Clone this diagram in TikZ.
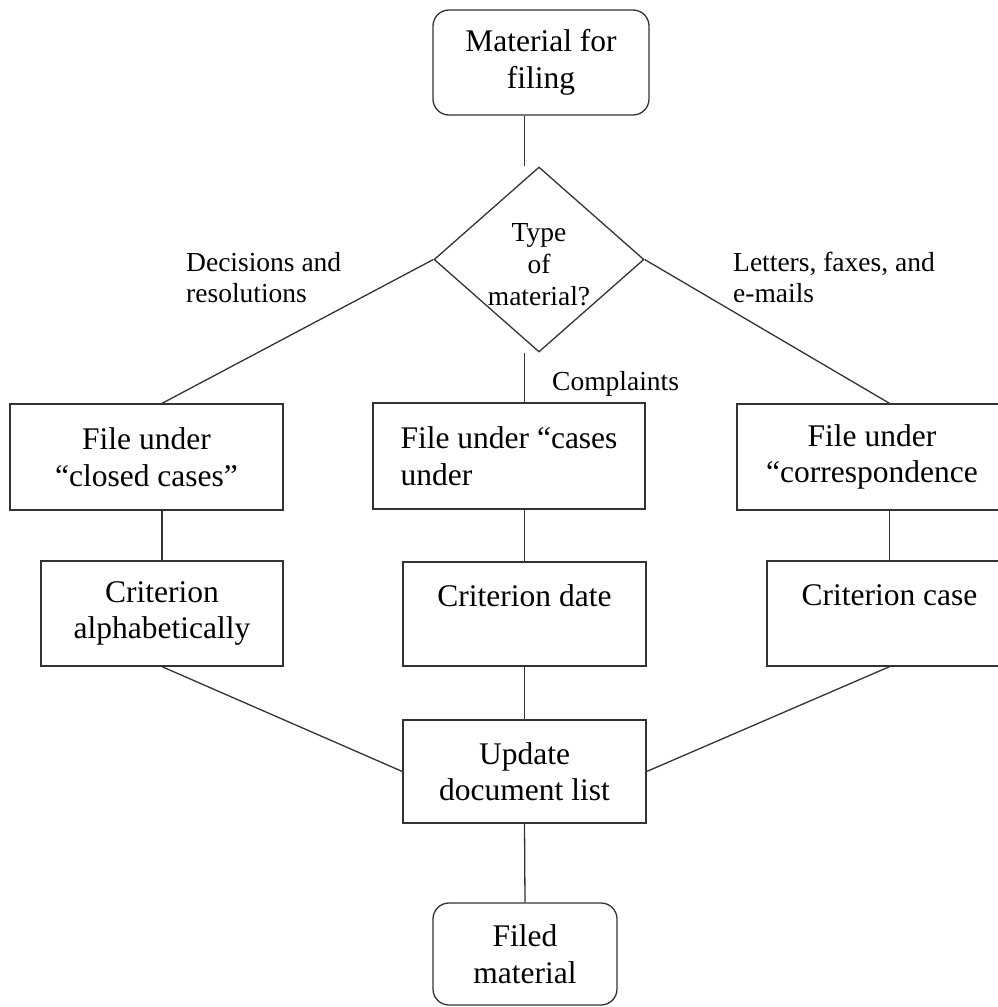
\documentclass[tikz,border=0pt]{standalone}
\usepackage{fontspec}
\setmainfont{Liberation Serif}
\usetikzlibrary{shapes.geometric}
\definecolor{lc}{HTML}{333333}
\newcommand\bxfont{\fontsize{31.5}{36.5}\selectfont}
\newcommand\lblfont{\fontsize{27.5}{31}\selectfont}
\newcommand\dmfont{\fontsize{27.5}{32}\selectfont}

\begin{document}
\begin{tikzpicture}[x=1pt,y=-1pt,
  box/.style={draw=lc, line width=1.3pt, inner sep=0pt, align=center, font=\bxfont},
  term/.style={box, rounded corners=16pt},
  lbl/.style={inner sep=0pt, align=left, font=\lblfont, anchor=base west},
  link/.style={draw=lc, line width=1.3pt}]
\useasboundingbox (0,0) rectangle (998,1007);

% start and decision
\node[term, minimum width=216pt, minimum height=105pt] (start) at (541,62.5) {Material for\\filing};
\node[diamond, draw=lc, line width=1.3pt, inner sep=0pt, aspect=1.135,
      minimum width=210pt, minimum height=185pt] (kind) at (539,259.5) {};
\node[inner sep=0pt, align=center, font=\dmfont] (kindtext) at ([yshift=-5pt]kind.center) {Type\\of\\material?};

% filing branches
\node[box, minimum width=273pt, minimum height=106pt] (b1) at (146.5,457) {File under\\“closed cases”};
\node[box, align=left, minimum width=272pt, minimum height=106pt] (b2) at (509,456) {File under “cases\\under};
\node[box, minimum width=270pt, minimum height=106pt] (b3) at (872,457) {File under\\“correspondence};

% sorting criteria
\node[box, minimum width=242pt, minimum height=105pt] (c1) at (162,613.5) {Criterion\\alphabetically};
\node[box, minimum width=243pt, minimum height=104pt] (c2) at (524.5,614) {Criterion date\\ \mbox{}};
\node[box, minimum width=245pt, minimum height=105pt] (c3) at (889.5,613.5) {Criterion case\\ \mbox{}};

% final steps
\node[box, minimum width=243pt, minimum height=103pt] (up) at (524.5,771.5) {Update\\document list};
\node[term, minimum width=184pt, minimum height=102pt] (fm) at (525,954) {Filed\\material};

% branch labels (anchored at the baseline of the last line)
\node[lbl] (lblA) at (186,302) {Decisions and\\resolutions};
\node[lbl] (lblB) at (733,302) {Letters, faxes, and\\e-mails};
\node[lbl] (lblC) at (552,390) {Complaints};

% connectors
\draw[link] (start.south -| c2.north) -- (kind.north -| c2.north);
\draw[link] (kind.south -| c2.north) -- (b2.north -| c2.north);
\draw[link] (kind.west) -- (b1.north -| c1.north);
\draw[link] (kind.east) -- (b3.north -| c3.north);
\draw[link] (b1.south -| c1.north) -- (c1.north);
\draw[link] (b2.south -| c2.north) -- (c2.north);
\draw[link] (b3.south -| c3.north) -- (c3.north);
\draw[link] (c1.south) -- (up.west);
\draw[link] (c2.south) -- (up.north);
\draw[link] (c3.south) -- (up.east);
\draw[link] (up.south) -- (fm.north);
\end{tikzpicture}
\end{document}
